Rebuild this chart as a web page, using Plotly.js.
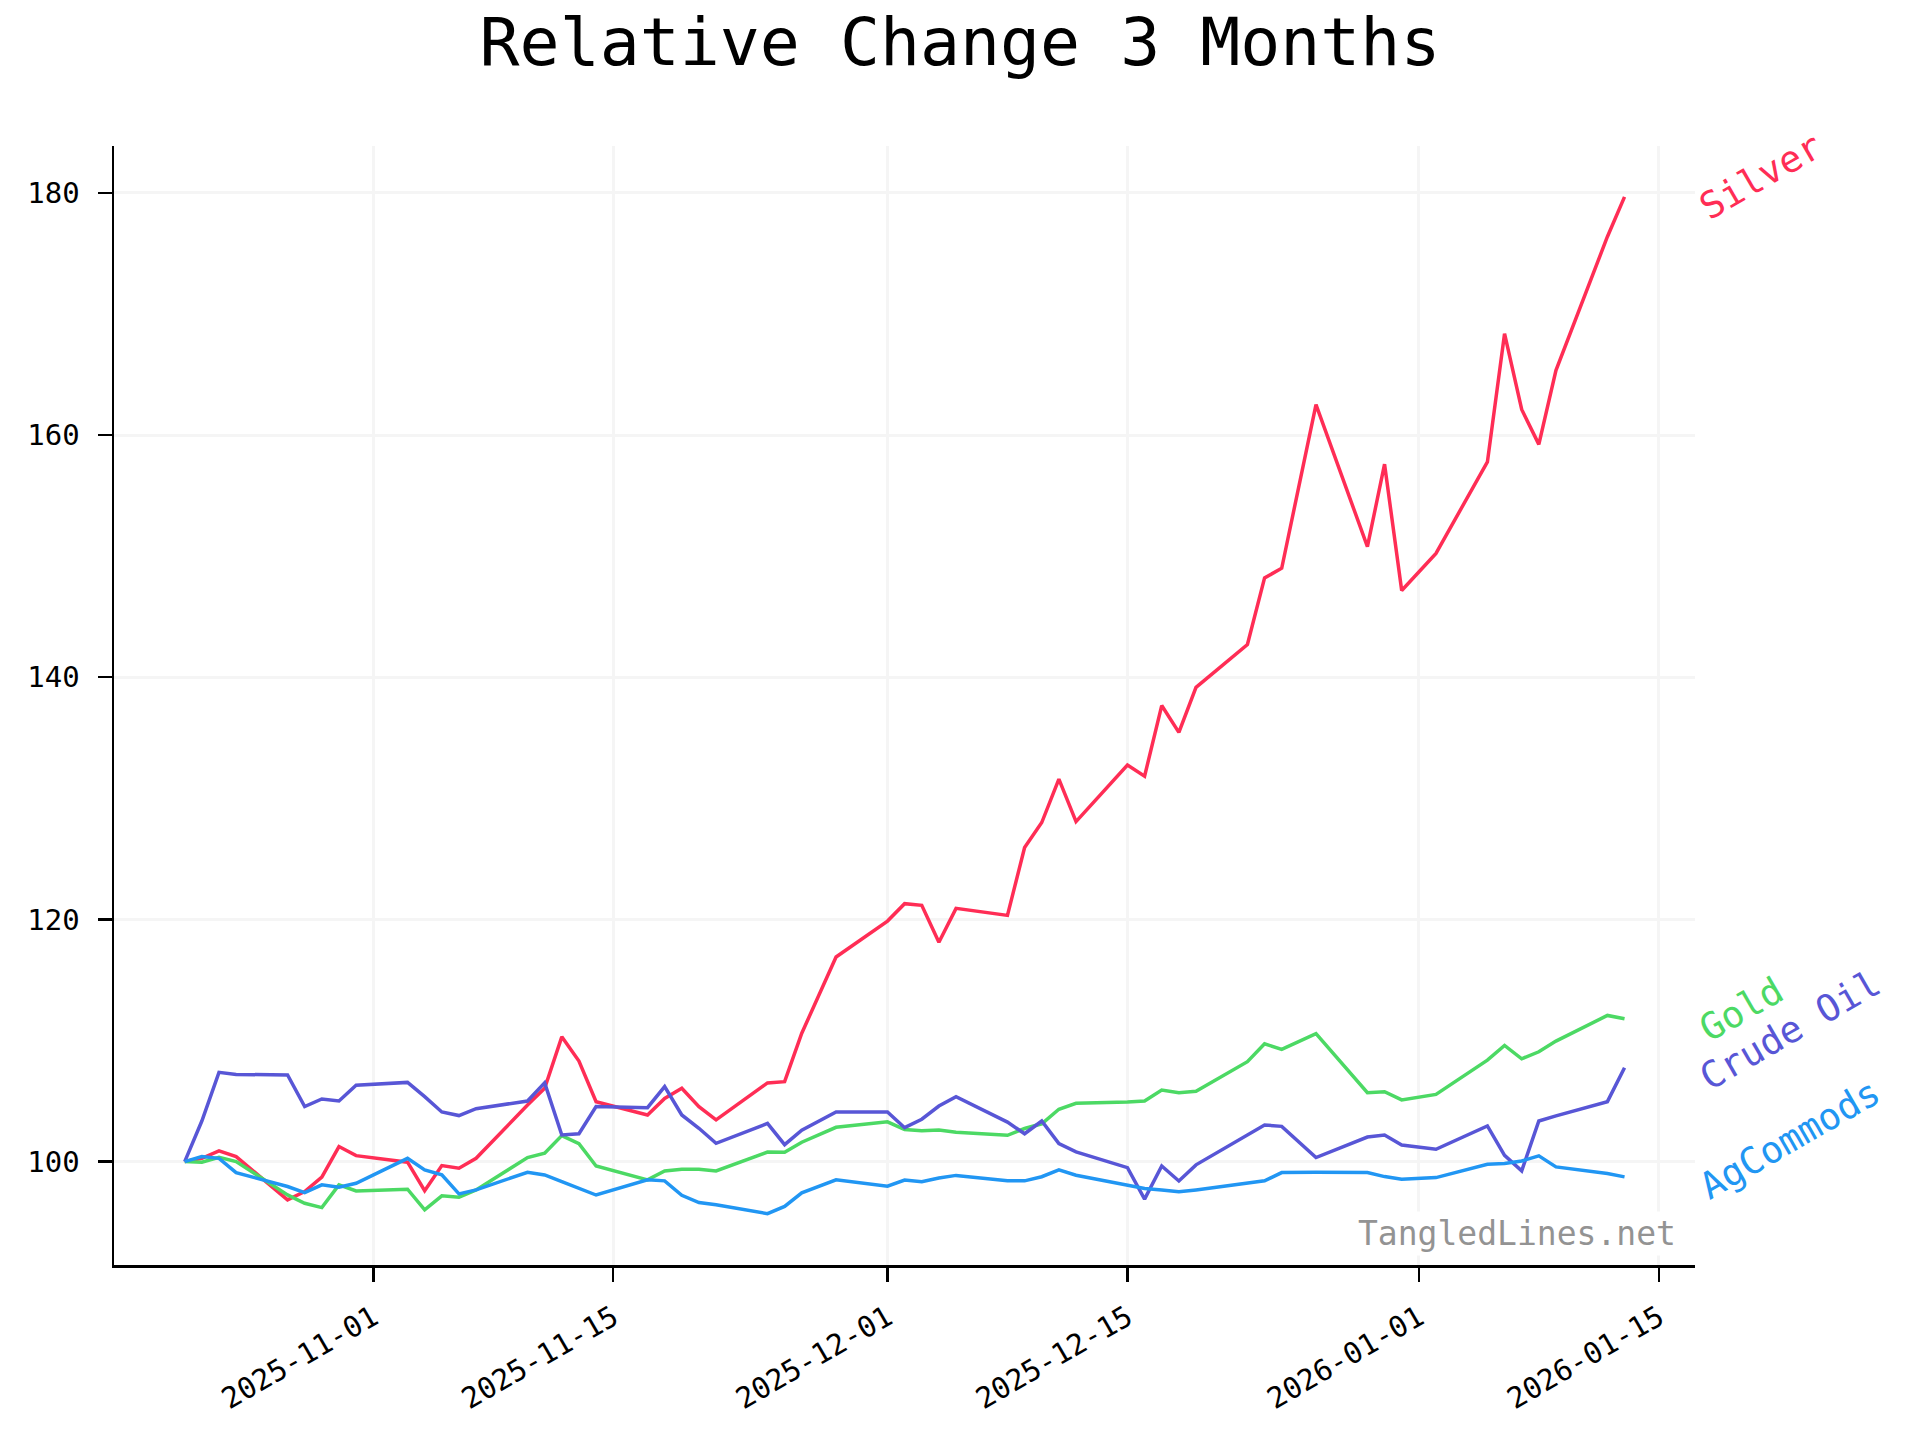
<!DOCTYPE html>
<html>
<head>
<meta charset="utf-8">
<script src="https://cdn.plot.ly/plotly-3.0.1.min.js"></script>
<style>html,body{margin:0;padding:0;background:#fff;}#chart{width:1920px;height:1440px;}</style>
</head>
<body>
<div id="chart"></div>
<script>
const dates = [
  '2025-10-21','2025-10-22','2025-10-23','2025-10-24','2025-10-27','2025-10-28','2025-10-29','2025-10-30','2025-10-31',
  '2025-11-03','2025-11-04','2025-11-05','2025-11-06','2025-11-07','2025-11-10','2025-11-11','2025-11-12','2025-11-13','2025-11-14',
  '2025-11-17','2025-11-18','2025-11-19','2025-11-20','2025-11-21','2025-11-24','2025-11-25','2025-11-26','2025-11-28',
  '2025-12-01','2025-12-02','2025-12-03','2025-12-04','2025-12-05','2025-12-08','2025-12-09','2025-12-10','2025-12-11','2025-12-12',
  '2025-12-15','2025-12-16','2025-12-17','2025-12-18','2025-12-19','2025-12-22','2025-12-23','2025-12-24','2025-12-26',
  '2025-12-29','2025-12-30','2025-12-31',
  '2026-01-02','2026-01-05','2026-01-06','2026-01-07','2026-01-08','2026-01-09','2026-01-12','2026-01-13'
];

const silver = [
  100, 100.27, 100.88, 100.41, 96.84, 97.53, 98.71, 101.24, 100.49,
  99.95, 97.6, 99.67, 99.45, 100.27, 104.67, 106.05, 110.3, 108.3, 104.95,
  103.85, 105.22, 106.05, 104.54, 103.44, 106.5, 106.6, 110.6, 116.9,
  119.86, 121.3, 121.16, 118.12, 120.91, 120.33, 125.93, 128.0, 131.59, 128.08,
  132.74, 131.83, 137.66, 135.45, 139.17, 142.7, 148.2, 149.0, 162.52,
  150.78, 157.59, 147.16,
  150.23, 157.78, 168.37, 162.11, 159.23, 165.35, 176.38, 179.67
];

const gold = [
  100, 99.95, 100.36, 100, 97.25, 96.56, 96.2, 98.08, 97.58,
  97.72, 96.01, 97.17, 97.06, 97.66, 100.33, 100.69, 102.15, 101.48, 99.64,
  98.49, 99.23, 99.37, 99.37, 99.23, 100.79, 100.77, 101.6, 102.83,
  103.28, 102.64, 102.55, 102.6, 102.43, 102.17, 102.73, 103.12, 104.32, 104.81,
  104.92, 105.0, 105.91, 105.69, 105.8, 108.25, 109.73, 109.26, 110.56,
  105.69, 105.77, 105.09,
  105.55, 108.38, 109.59, 108.49, 109.07, 109.95, 112.07, 111.79
];

const crudeOil = [
  100, 103.35, 107.37, 107.2, 107.15, 104.54, 105.17, 105.0, 106.3,
  106.54, 105.36, 104.1, 103.8, 104.37, 105.0, 106.5, 102.2, 102.3, 104.54,
  104.45, 106.19, 103.85, 102.75, 101.51, 103.15, 101.4, 102.6, 104.1,
  104.1, 102.8, 103.5, 104.59, 105.36, 103.26, 102.3, 103.35, 101.48, 100.8,
  99.5, 96.9, 99.64, 98.4, 99.73, 102.2, 103.02, 102.91, 100.33,
  102.03, 102.2, 101.37,
  101.02, 102.94, 100.52, 99.23, 103.35, 103.77, 104.95, 107.75
];

const agCommods = [
  100, 100.41, 100.27, 99.09, 97.94, 97.44, 98.08, 97.88, 98.21,
  100.27, 99.31, 98.9, 97.33, 97.66, 99.12, 98.9, 98.35, 97.8, 97.24,
  98.49, 98.41, 97.22, 96.62, 96.43, 95.7, 96.3, 97.42, 98.49,
  97.97, 98.47, 98.34, 98.65, 98.86, 98.41, 98.41, 98.75, 99.31, 98.87,
  98.05, 97.77, 97.66, 97.5, 97.66, 98.27, 98.41, 99.09, 99.12,
  99.09, 98.76, 98.54,
  98.68, 99.78, 99.84, 100.05, 100.47, 99.56, 99.01, 98.74
];

const seriesNames = ['Silver', 'Gold', 'Crude Oil', 'AgCommods'];
const seriesValues = [silver, gold, crudeOil, agCommods];
const seriesColors = ['#ff2d55', '#4cd964', '#5856d6', '#2196f3'];

const xTickVals = ['2025-11-01','2025-11-15','2025-12-01','2025-12-15','2026-01-01','2026-01-15'];
const yTickVals = [100, 120, 140, 160, 180];

const FONT = 'DejaVu Sans Mono, monospace';

const traces = seriesNames.map((name, i) => ({
  type: 'scatter',
  mode: 'lines',
  name: name,
  x: dates,
  y: seriesValues[i],
  line: {color: seriesColors[i], width: 3.5},
  hoverinfo: 'x+y+name'
}));

const labelFont = 37;
const cos30 = Math.cos(Math.PI / 6), sin30 = Math.sin(Math.PI / 6);
const labelAnnotations = seriesNames.map((name, i) => {
  const vals = seriesValues[i];
  const L = name.length * 0.602 * labelFont;
  return {
    xref: 'paper', x: 1,
    yref: 'y', y: vals[vals.length - 1],
    text: name,
    showarrow: false,
    textangle: -30,
    xanchor: 'center', yanchor: 'middle',
    xshift: 8 + (L / 2) * cos30,
    yshift: (L / 2) * sin30 - 13,
    font: {family: FONT, size: labelFont, color: seriesColors[i]}
  };
});

const watermark = {
  xref: 'paper', x: 0.99,
  yref: 'paper', y: 0.008,
  xanchor: 'right', yanchor: 'bottom',
  text: 'TangledLines.net',
  showarrow: false,
  bgcolor: '#ffffff',
  borderpad: 2,
  font: {family: FONT, size: 33, color: '#939393'}
};

const axisCommon = {
  showline: true,
  linecolor: '#000000',
  linewidth: 2.5,
  ticks: 'outside',
  ticklen: 14,
  tickwidth: 2.5,
  tickcolor: '#000000',
  showgrid: true,
  gridcolor: '#f5f5f5',
  gridwidth: 3,
  zeroline: false,
  tickfont: {family: FONT, size: 29, color: '#000000'}
};

const layout = {
  width: 1920,
  height: 1440,
  paper_bgcolor: '#ffffff',
  plot_bgcolor: '#ffffff',
  showlegend: false,
  margin: {l: 114, r: 225, t: 146, b: 175},
  title: {
    text: 'Relative Change 3 Months',
    font: {family: FONT, size: 66.5, color: '#000000'},
    xref: 'container', x: 0.5, xanchor: 'center',
    yref: 'container', y: 1 - 42 / 1440, yanchor: 'middle'
  },
  xaxis: Object.assign({}, axisCommon, {
    type: 'date',
    range: ['2025-10-16 21:00', '2026-01-17 02:40'],
    tickmode: 'array',
    tickvals: xTickVals,
    ticktext: xTickVals,
    tickangle: -30,
    ticklabelstandoff: 8
  }),
  yaxis: Object.assign({}, axisCommon, {
    range: [91.46, 183.87],
    tickmode: 'array',
    tickvals: yTickVals,
    ticktext: yTickVals.map(String),
    ticklabelstandoff: 12
  }),
  annotations: labelAnnotations.concat([watermark])
};

Plotly.newPlot('chart', traces, layout, {displayModeBar: false, staticPlot: true});
</script>
</body>
</html>
